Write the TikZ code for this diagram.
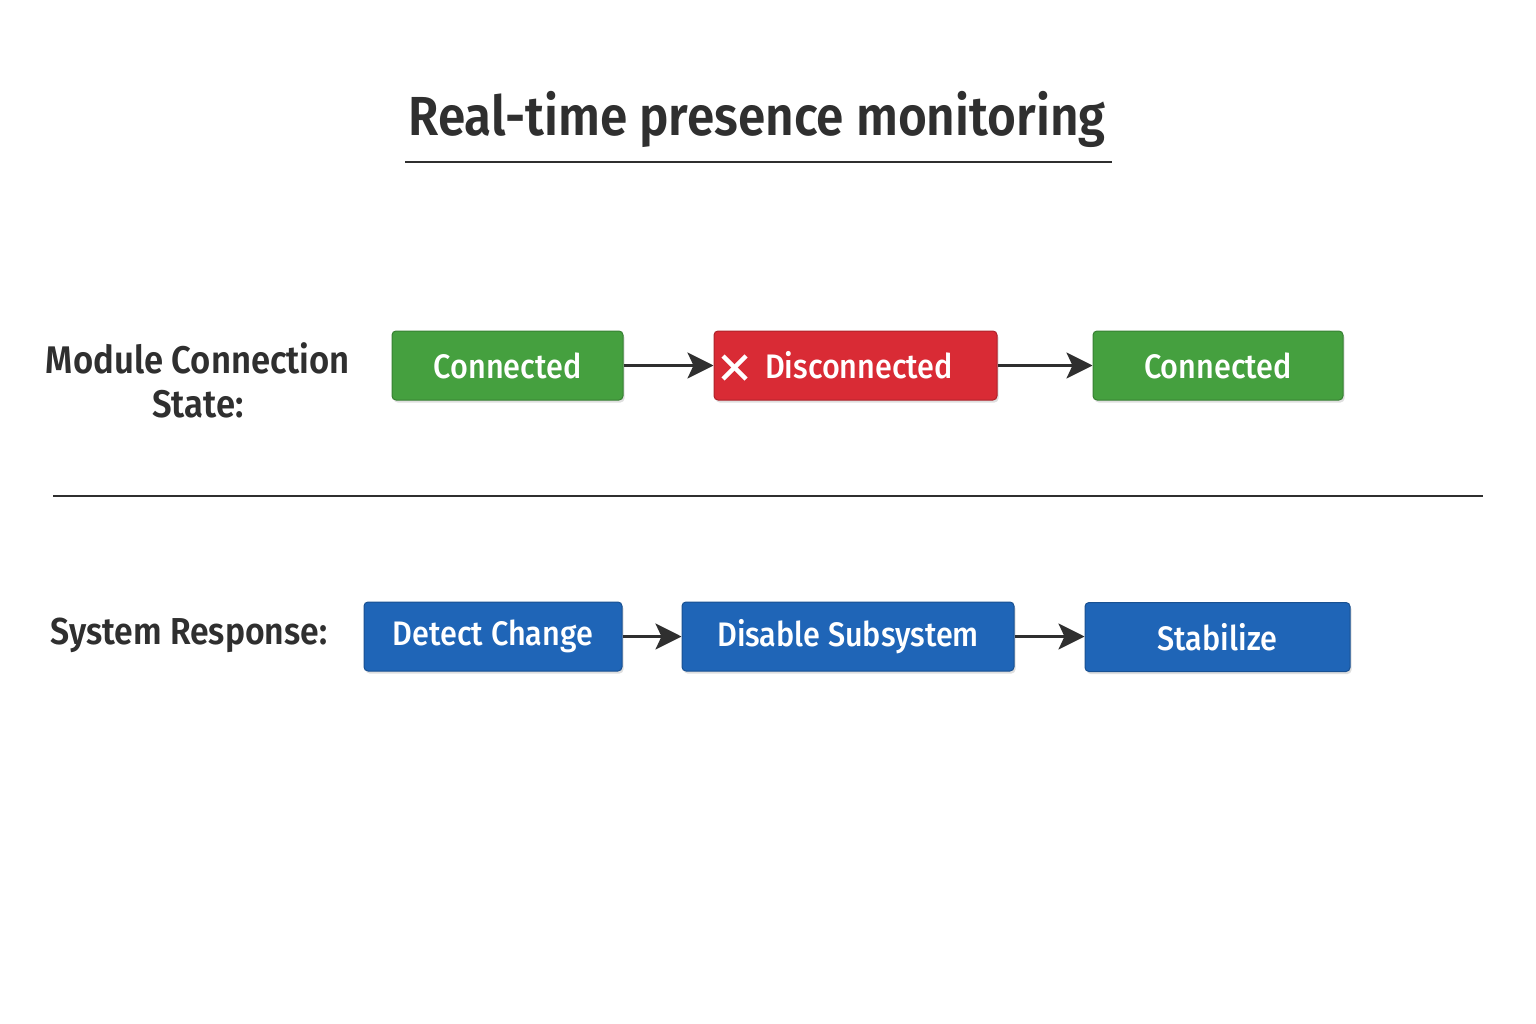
\documentclass[tikz,border=0pt]{standalone}
\usepackage{fontspec}
\setmainfont{Fira Sans}[FakeStretch=0.9,UprightFont=* Medium,BoldFont=* SemiBold]
\usetikzlibrary{arrows.meta,shadows}
\definecolor{ink}{HTML}{2F2F2F}
\definecolor{gbox}{HTML}{45A03F}
\definecolor{rbox}{HTML}{D92B35}
\definecolor{bbox}{HTML}{1F65B7}
\tikzset{
  box/.style={draw=#1!80!black, line width=1pt, fill=#1, rounded corners=4pt, minimum height=69pt, text=white, font=\fontsize{34}{40}\selectfont, inner sep=0pt, drop shadow={shadow xshift=1.5pt, shadow yshift=-2.5pt, opacity=0.25}},
  lbl/.style={text=ink, font=\fontsize{38.5}{44}\selectfont\bfseries, align=center},
  arr/.style={draw=ink, line width=3pt, -{Stealth[length=26pt,width=26pt,inset=6pt]}},
  xmark/.style={draw=white, line width=4.5pt, line cap=butt},
}
\begin{document}
\begin{tikzpicture}[x=1pt,y=-1pt]
\useasboundingbox[fill=white] (0,0) rectangle (1536,1024);
\node[text=ink, font=\fontsize{55}{60}\selectfont\bfseries, anchor=base] (title) at (757,136) {Real-time presence monitoring};
\coordinate (ul1) at (405,162); \coordinate (ul2) at (1112,162);
\draw[ink, line width=2.5pt] (ul1) -- (ul2);

\node[lbl] (lab1) at (198,380) {Module Connection\\State:};
\node[box=gbox, minimum width=231pt] (c1) at (507.5,365.5) {Connected};
\node[box=rbox, minimum width=283pt] (d1) at (855.5,365.5) {\hspace{7pt}Disconnected};
\coordinate (xa) at (723,356); \coordinate (xb) at (746,379);
\coordinate (xc) at (723,379); \coordinate (xd) at (746,356);
\draw[xmark] (xa) -- (xb);
\draw[xmark] (xc) -- (xd);
\node[box=gbox, minimum width=250pt] (c2) at (1218,365.5) {Connected};
\draw[arr] (c1) -- (d1);
\draw[arr] (d1) -- (c2);

\coordinate (s1) at (53,496); \coordinate (s2) at (1483,496);
\draw[ink, line width=1.8pt] (s1) -- (s2);

\node[lbl, anchor=west, font=\fontsize{37.5}{44}\selectfont\bfseries] (lab2) at (47,635) {System Response:};
\node[box=bbox, minimum width=258pt] (b1) at (493,636.5) {Detect Change};
\node[box=bbox, minimum width=332pt] (b2) at (848,636.5) {Disable Subsystem};
\node[box=bbox, minimum width=265pt] (b3) at (1217.5,637) {Stabilize};
\draw[arr] (b1) -- (b2);
\draw[arr] (b2.east) -- (b2.east -| b3.west);
\end{tikzpicture}
\end{document}
